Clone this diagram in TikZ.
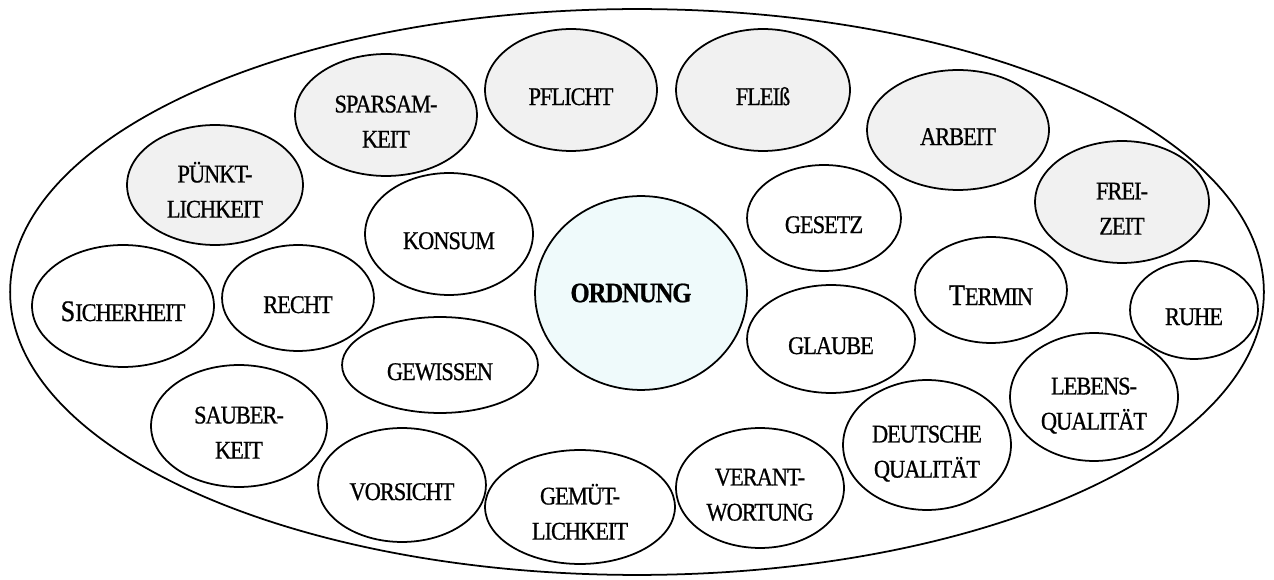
\documentclass[tikz,border=0pt]{standalone}
\usepackage{fontspec}
\setmainfont{Liberation Serif}[FakeStretch=0.88, LetterSpace=-4, FakeBold=0.7]
\usetikzlibrary{shapes.geometric}
\definecolor{paleGrey}{HTML}{F1F1F1}
\definecolor{paleCyan}{HTML}{EFFAFB}
% text sits a little below the centre of its bubble
\newcommand\lbl[1]{\raisebox{-0.16cm}[\height][\depth]{\begin{tabular}{@{}c@{}}#1\end{tabular}}}
\begin{document}
\begin{tikzpicture}[x=0.02cm, y=-0.02cm, line width=1pt,
    main/.style 2 args = {draw, ellipse, inner sep=0pt,
      minimum width=#1*0.04cm, minimum height=#2*0.04cm,
      font=\fontsize{14.5}{20}\selectfont},
    grey/.style = {fill=paleGrey}]
  \useasboundingbox (0,0) rectangle (1274,580);
  \node[draw, ellipse, minimum width=25.08cm, minimum height=11.32cm] (outer) at (637,292) {};
  % top row, shaded
  \node[main={88}{60}, grey] (puenkt) at (215,185) {\lbl{PÜNKT-\\LICHKEIT}};
  \node[main={91}{61}, grey] (spar) at (386,115) {\lbl{SPARSAM-\\KEIT}};
  \node[main={86}{61}, grey] (pflicht) at (571,90) {\lbl{PFLICHT}};
  \node[main={87}{61}, grey] (fleiss) at (763,90) {\lbl{FLEIß}};
  \node[main={91}{60}, grey] (arbeit) at (958,130) {\lbl{ARBEIT}};
  \node[main={87}{61}, grey] (freizeit) at (1122,202) {\lbl{FREI-\\ZEIT}};
  % centre
  \node[main={106}{97}, fill=paleCyan, font=\bfseries\fontsize{16}{20}\selectfont] (ordnung) at (641,293) {\hspace*{-0.4cm}ORDNUNG};
  \node[main={84}{61}] (konsum) at (449,234) {\lbl{KONSUM}};
  \node[main={77}{53}] (gesetz) at (824,218) {\lbl{GESETZ}};
  \node[main={91}{61}] (sicher) at (123,306) {\lbl{{\fontsize{17}{20}\selectfont S}ICHERHEIT}};
  \node[main={76}{53}] (recht) at (298,298) {\lbl{RECHT}};
  \node[main={76}{53}] (termin) at (991,290) {\lbl{{\fontsize{17}{20}\selectfont T}ERMIN}};
  \node[main={64}{49}] (ruhe) at (1194,310) {\lbl{RUHE}};
  \node[main={98}{48}] (gewissen) at (440,365) {\lbl{GEWISSEN}};
  \node[main={84}{54}] (glaube) at (831,339) {\lbl{GLAUBE}};
  % bottom row
  \node[main={88}{61}] (sauber) at (239,426) {\lbl{SAUBER-\\KEIT}};
  \node[main={84}{57}] (vorsicht) at (402,485) {\lbl{VORSICHT}};
  \node[main={95}{57}] (gemuet) at (580,507) {\lbl{GEMÜT-\\LICHKEIT}};
  \node[main={84}{60}] (verant) at (760,488) {\lbl{VERANT-\\WORTUNG}};
  \node[main={84}{65}] (deutsch) at (927,445) {\lbl{DEUTSCHE\\QUALITÄT}};
  \node[main={84}{64}] (leben) at (1094,397) {\lbl{LEBENS-\\QUALITÄT}};
\end{tikzpicture}
\end{document}
